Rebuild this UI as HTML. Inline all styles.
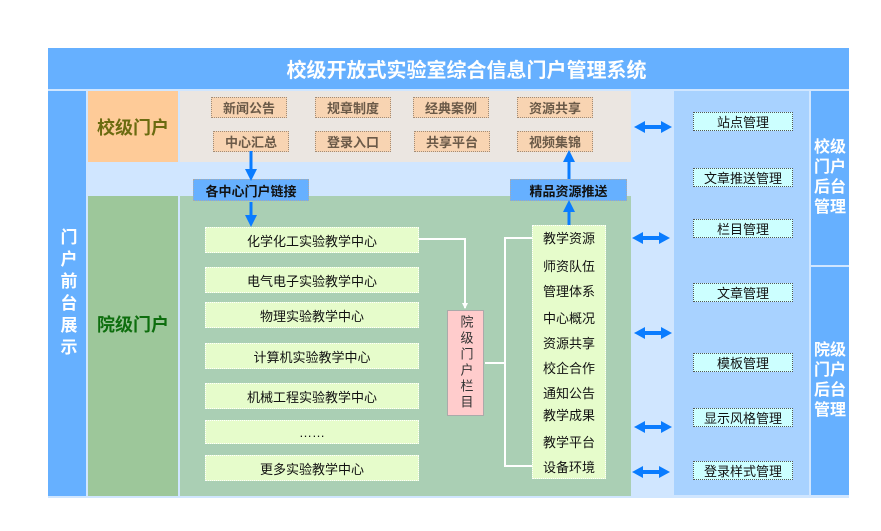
<!DOCTYPE html>
<html><head><meta charset="utf-8"><style>
*{margin:0;padding:0;box-sizing:border-box}
body{width:881px;height:531px;background:#fff;position:relative;overflow:hidden;font-family:"Liberation Sans","Noto Sans CJK SC",sans-serif}
div{position:absolute}
.c{display:flex;align-items:center;justify-content:center;text-align:center}
.it{background:#f8d4b2;border:1px dotted #a08c78;color:#6b5a48;font-weight:bold;font-size:13px;height:21px;width:76px}
.g{background:#e6fccb;border:1px dotted #fff;font-size:13px;color:#111;left:205px;width:214px;height:26px}
.r{background:#ccffff;border:1px dotted #555;font-size:13px;color:#111;left:693px;width:100px;height:19px}
.lk{background:#66b0ff;border:1px dotted #aaa;font-weight:bold;font-size:13px;color:#111;height:22px;top:179px}
.li{left:532px;width:74px;height:25px;font-size:13px;color:#111}
</style></head><body>
<div style="left:48px;top:48px;width:801px;height:450px;background:#d0e6ff"></div>
<div class="c" style="left:48px;top:48px;width:801px;height:41px;background:#66b0ff;color:#fff;font-weight:bold;font-size:20px;padding-left:36px">校级开放式实验室综合信息门户管理系统</div>
<div class="c" style="left:48px;top:91px;width:38px;height:405px;background:#66b0ff;color:#fff;font-weight:bold;font-size:17px;line-height:21px;letter-spacing:5px;writing-mode:vertical-rl">门户前台展示</div>
<div class="c" style="left:88px;top:91px;width:90px;height:71px;background:#fecb98;color:#6b6b10;font-weight:bold;font-size:18px">校级门户</div>
<div style="left:180px;top:91px;width:451px;height:71px;background:#ebe6e1"></div>
<div class="c it" style="left:211px;top:97px">新闻公告</div>
<div class="c it" style="left:315px;top:97px">规章制度</div>
<div class="c it" style="left:413px;top:97px">经典案例</div>
<div class="c it" style="left:517px;top:97px">资源共享</div>
<div class="c it" style="left:213px;top:131px">中心汇总</div>
<div class="c it" style="left:315px;top:131px">登录入口</div>
<div class="c it" style="left:414px;top:131px">共享平台</div>
<div class="c it" style="left:517px;top:131px">视频集锦</div>
<div class="c" style="left:88px;top:196px;width:90px;height:300px;background:#9dc79a;color:#0e6e0e;font-weight:bold;font-size:18px;align-items:flex-start;padding-top:115px">院级门户</div>
<div style="left:180px;top:196px;width:451px;height:300px;background:#aacfb4"></div>
<div class="c lk" style="left:193px;width:116px">各中心门户链接</div>
<div class="c lk" style="left:510px;width:117px">精品资源推送</div>
<div class="c g" style="top:227px">化学化工实验教学中心</div>
<div class="c g" style="top:267px">电气电子实验教学中心</div>
<div class="c g" style="top:302px">物理实验教学中心</div>
<div class="c g" style="top:343px">计算机实验教学中心</div>
<div class="c g" style="top:383px">机械工程实验教学中心</div>
<div class="c g" style="top:420px;height:24px">……</div>
<div class="c g" style="top:455px">更多实验教学中心</div>
<div class="c" style="left:447px;top:310px;width:37px;height:106px;background:#ffcccc;border:1px solid #aaa;font-size:13px;color:#333;writing-mode:vertical-rl;line-height:16px;letter-spacing:3px">院级门户栏目</div>
<div style="left:532px;top:225px;width:74px;height:254px;background:#e6fccb;border:1px dotted #fff"></div>
<div class="c li" style="top:225px">教学资源</div>
<div class="c li" style="top:253px">师资队伍</div>
<div class="c li" style="top:278px">管理体系</div>
<div class="c li" style="top:305px">中心概况</div>
<div class="c li" style="top:330px">资源共享</div>
<div class="c li" style="top:355px">校企合作</div>
<div class="c li" style="top:380px">通知公告</div>
<div class="c li" style="top:402px">教学成果</div>
<div class="c li" style="top:429px">教学平台</div>
<div class="c li" style="top:454px">设备环境</div>
<div style="left:674px;top:91px;width:135px;height:404px;background:#a8d2ff"></div>
<div class="c" style="left:811px;top:91px;width:38px;height:174px;background:#66b0ff;color:#fff;font-weight:bold;font-size:16px;line-height:20px">校级<br>门户<br>后台<br>管理</div>
<div class="c" style="left:811px;top:267px;width:38px;height:228px;background:#66b0ff;color:#fff;font-weight:bold;font-size:16px;line-height:20px">院级<br>门户<br>后台<br>管理</div>
<div class="c r" style="top:112px">站点管理</div>
<div class="c r" style="top:168px">文章推送管理</div>
<div class="c r" style="top:219px">栏目管理</div>
<div class="c r" style="top:283px">文章管理</div>
<div class="c r" style="top:353px">模板管理</div>
<div class="c r" style="top:408px">显示风格管理</div>
<div class="c r" style="top:461px">登录样式管理</div>
<svg style="position:absolute;left:0;top:0" width="881" height="531">
<defs>
<marker id="b" markerWidth="4" markerHeight="4" refX="3" refY="2" orient="auto" markerUnits="strokeWidth"><path d="M0,0L4,2L0,4z" fill="#0a7cff"/></marker>
<marker id="w" markerWidth="6" markerHeight="6" refX="5" refY="3" orient="auto" markerUnits="userSpaceOnUse"><path d="M0,0L6,3L0,6z" fill="#fff"/></marker>
</defs>
<g stroke="#0a7cff" stroke-width="3" fill="none">
<line x1="251" y1="151" x2="251" y2="178" marker-end="url(#b)"/>
<line x1="251" y1="202" x2="251" y2="224" marker-end="url(#b)"/>
<line x1="569" y1="179" x2="569" y2="153" marker-end="url(#b)"/>
<line x1="569" y1="225" x2="569" y2="203" marker-end="url(#b)"/>
</g>
<g fill="#0a7cff">
<path d="M634,127l11,-6v4h16v-4l11,6l-11,6v-4h-16v4z"/>
<path d="M632,238l11,-6v4h16v-4l11,6l-11,6v-4h-16v4z"/>
<path d="M634,333l11,-6v4h16v-4l11,6l-11,6v-4h-16v4z"/>
<path d="M634,427l11,-6v4h16v-4l11,6l-11,6v-4h-16v4z"/>
<path d="M632,472l11,-6v4h16v-4l11,6l-11,6v-4h-16v4z"/>
</g>
<g stroke="#fff" stroke-width="2" fill="none">
<polyline points="419,239 465,239 465,308" marker-end="url(#w)"/>
<line x1="485" y1="363" x2="505" y2="363"/>
<polyline points="532,238 505,238 505,466 532,466"/>
</g>
</svg>
</body></html>
